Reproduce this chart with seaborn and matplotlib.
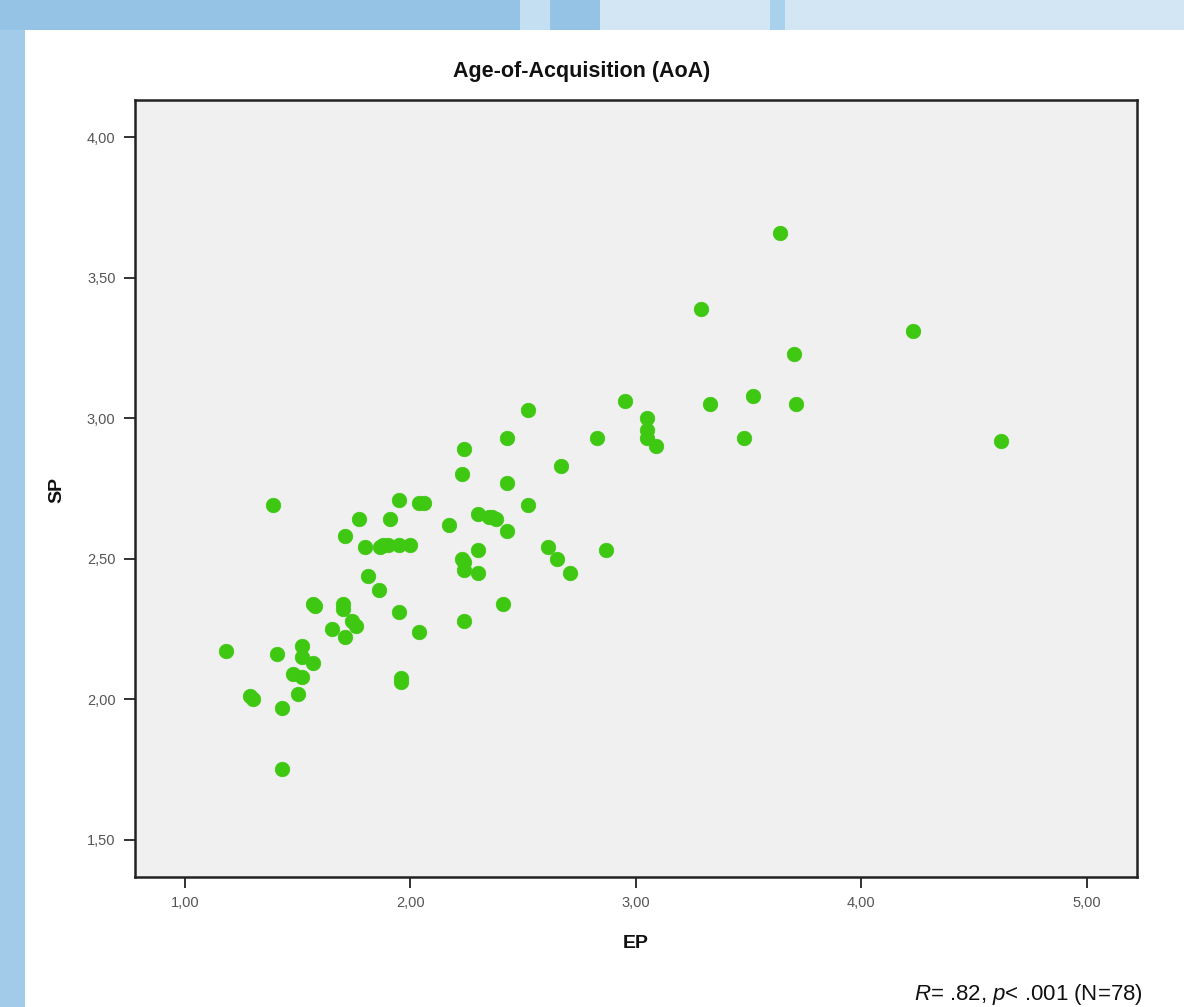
import matplotlib
matplotlib.use("Agg")
import matplotlib.pyplot as plt
import seaborn as sns
import pandas as pd
from matplotlib.patches import Rectangle

# ---- data ----
ep = [1.39, 1.95, 2.04, 2.06, 1.77, 1.91, 2.17, 1.71, 1.80, 1.865,
      1.90, 1.95, 2.00, 1.81, 1.86, 1.57, 1.575, 1.70, 1.70, 1.74,
      1.76, 1.95, 1.65, 1.71, 2.04, 1.18, 1.41, 1.52, 1.52, 1.57,
      1.48, 1.52, 1.96, 1.96, 1.29, 1.30, 1.50, 1.43, 1.43, 2.95,
      2.52, 3.05, 3.05, 3.05, 3.09, 2.43, 2.83, 2.24, 2.23, 2.67,
      2.43, 2.52, 2.30, 2.35, 2.38, 2.43, 2.30, 2.23, 2.24, 2.24,
      2.30, 2.61, 2.65, 2.71, 2.87, 2.41, 2.24, 3.64, 3.29, 4.23,
      3.70, 3.52, 3.33, 3.71, 3.48, 4.62, 2.36, 1.88]
sp = [2.69, 2.71, 2.70, 2.70, 2.64, 2.64, 2.62, 2.58, 2.54, 2.54,
      2.55, 2.55, 2.55, 2.44, 2.39, 2.34, 2.33, 2.34, 2.32, 2.28,
      2.26, 2.31, 2.25, 2.22, 2.24, 2.17, 2.16, 2.19, 2.15, 2.13,
      2.09, 2.08, 2.075, 2.06, 2.01, 2.00, 2.02, 1.97, 1.75, 3.06,
      3.03, 3.00, 2.96, 2.93, 2.90, 2.93, 2.93, 2.89, 2.80, 2.83,
      2.77, 2.69, 2.66, 2.65, 2.64, 2.60, 2.53, 2.50, 2.49, 2.46,
      2.45, 2.54, 2.50, 2.45, 2.53, 2.34, 2.28, 3.66, 3.39, 3.31,
      3.23, 3.08, 3.05, 3.05, 2.93, 2.92, 2.65, 2.55]
x_ticks = [1.0, 2.0, 3.0, 4.0, 5.0]
y_ticks = [1.5, 2.0, 2.5, 3.0, 3.5, 4.0]
x_tick_labels = ["1,00", "2,00", "3,00", "4,00", "5,00"]
y_tick_labels = ["1,50", "2,00", "2,50", "3,00", "3,50", "4,00"]
title = "Age-of-Acquisition (AoA)"
x_label = "EP"
y_label = "SP"
note = r"$R$= .82, $p$< .001 (N=78)"

df = pd.DataFrame({"EP": ep, "SP": sp})

sns.set_style("white")
plt.rcParams["font.family"] = ["Liberation Sans", "DejaVu Sans"]
plt.rcParams["mathtext.fontset"] = "custom"
plt.rcParams["mathtext.it"] = "Liberation Sans:italic"
plt.rcParams["mathtext.rm"] = "Liberation Sans"

W, H = 1184, 1007
fig = plt.figure(figsize=(W / 100, H / 100), dpi=100)
fig.patch.set_facecolor("white")

# page background (blue slide frame)
fig.patches.append(Rectangle((0, 0), 25 / W, 1, transform=fig.transFigure,
                             facecolor="#a2cbe9", edgecolor="none", zorder=0))
fig.patches.append(Rectangle((0, 1 - 30 / H), 600 / W, 30 / H, transform=fig.transFigure,
                             facecolor="#94c3e6", edgecolor="none", zorder=0))
fig.patches.append(Rectangle((600 / W, 1 - 30 / H), 1 - 600 / W, 30 / H, transform=fig.transFigure,
                             facecolor="#d3e6f4", edgecolor="none", zorder=0))
fig.patches.append(Rectangle((520 / W, 1 - 30 / H), 30 / W, 30 / H, transform=fig.transFigure,
                             facecolor="#c4def2", edgecolor="none", zorder=0))
fig.patches.append(Rectangle((770 / W, 1 - 30 / H), 15 / W, 30 / H, transform=fig.transFigure,
                             facecolor="#a9d0ec", edgecolor="none", zorder=0))

ax = fig.add_axes([135 / W, 1 - 877 / H, (1137 - 135) / W, (877 - 100) / H])
ax.set_facecolor("#f0f0f0")

sns.scatterplot(data=df, x="EP", y="SP", ax=ax, color="#3ec812", s=110,
                edgecolor="#3ec812", linewidth=0.5, legend=False, zorder=3)

ax.set_xlim(0.778, 5.224)
ax.set_ylim(1.367, 4.133)
ax.set_xticks(x_ticks)
ax.set_xticklabels(x_tick_labels)
ax.set_yticks(y_ticks)
ax.set_yticklabels(y_tick_labels)
ax.tick_params(axis="both", direction="out", length=8, width=1.3, color="#222222",
               labelsize=10.5, labelcolor="#555555", pad=6,
               bottom=True, left=True, top=False, right=False)
for sp_ in ax.spines.values():
    sp_.set_visible(True)
    sp_.set_color("#222222")
    sp_.set_linewidth(1.8)

ax.set_xlabel("")
ax.set_ylabel("")
fig.text(636 / W, 1 - 943 / H, x_label, ha="center", va="center",
         fontsize=14, fontweight="bold", color="#111111")
fig.text(57 / W, 1 - 490 / H, y_label, ha="center", va="center", rotation=90,
         fontsize=14, fontweight="bold", color="#111111")
fig.text(582 / W, 1 - 72 / H, title, ha="center", va="center",
         fontsize=15.5, fontweight="bold", color="#111111")
fig.text(1143 / W, 1 - 982 / H, note, ha="right", va="top",
         fontsize=16, color="#111111")

fig.savefig("out.png", dpi=100, facecolor=fig.get_facecolor())
